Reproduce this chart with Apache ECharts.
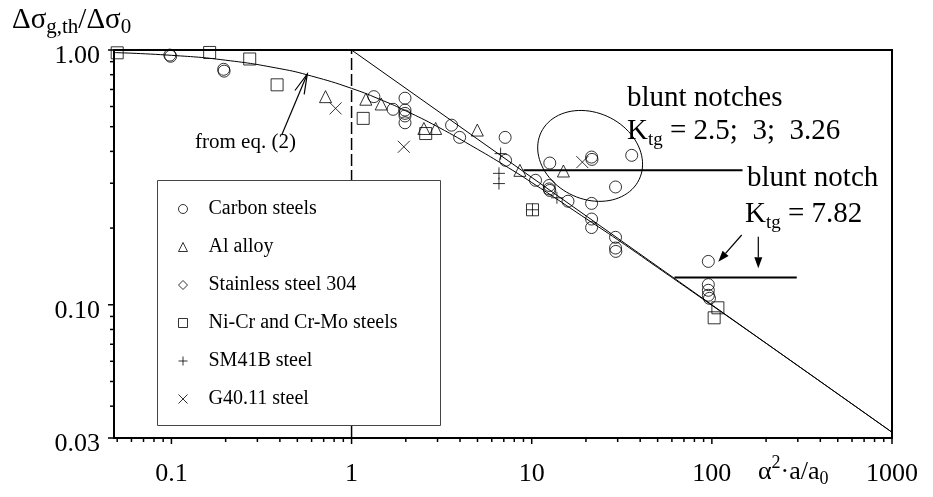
<!DOCTYPE html>
<html><head><meta charset="utf-8">
<script src="https://cdn.jsdelivr.net/npm/echarts@6/dist/echarts.min.js"></script>
<style>html,body{margin:0;padding:0;background:#fff}#c{width:933px;height:497px}</style>
</head><body><div id="c"></div>
<script>
// ---------- data ----------
const carbonSteels = [
  [0.098,0.955],[0.099,0.945],[0.195,0.840],[0.196,0.826],
  [1.33,0.656],[1.70,0.585],[1.98,0.647],[1.98,0.581],[1.98,0.564],[1.98,0.551],[1.98,0.518],
  [3.59,0.507],[3.98,0.454],[7.12,0.454],[7.16,0.369],
  [10.5,0.308],[12.6,0.360],[12.5,0.294],[12.5,0.285],[12.6,0.281],[15.9,0.255],
  [21.5,0.380],[21.6,0.372],[35.9,0.386],[29.2,0.290],
  [21.5,0.250],[21.5,0.217],[21.5,0.201],
  [29.2,0.184],[29.2,0.167],[29.3,0.162],
  [95.6,0.148],[95.6,0.120],[95.6,0.114],[95.6,0.109],[97,0.106]
];
const alAlloy = [[0.717,0.656],[1.20,0.641],[1.46,0.614],[2.52,0.492],[2.93,0.492],[4.99,0.485],[8.6,0.337],[15.0,0.335]];
const stainless304 = [];
const niCrCrMo = [[0.05,0.975],[0.163,0.978],[0.272,0.922],[0.386,0.730],[1.16,0.539],[2.58,0.470],[10.1,0.236],[108,0.0973],[103,0.0889]];
const sm41b = [[6.72,0.392],[6.58,0.328],[6.58,0.299],[13.8,0.263],[10.1,0.236]];
const g4011 = [[0.815,0.590],[1.95,0.417],[19.1,0.363]];

const eq2Curve = [[0.048,0.977],[0.1,0.953],[0.2,0.912],[0.4,0.845],[0.6,0.79],[1,0.707],[1.5,0.632],[2,0.577],[3,0.5],[5,0.408],[7,0.354],[10,0.302],[20,0.218],[30,0.18],[50,0.14],[100,0.0995],[300,0.0577],[1000,0.0316]];
const slopeLine = [[1,1],[1000,0.0316]];
const dashedLine = [[1,0.03],[1,1]];
const bluntNotchesLevel = [[9,0.337],[148,0.337]];
const bluntNotchLevel = [[62,0.128],[296,0.128]];
const ellipseCenter = [[21.1,0.384]];

const seriesNames = ['Carbon steels','Al alloy','Stainless steel 304','Ni-Cr and Cr-Mo steels','SM41B steel','G40.11 steel'];

const X_MIN = 0.048, X_MAX = 1000, Y_MIN = 0.03, Y_MAX = 1;
const xMajorTicks = [0.1,1,10,100,1000];
const xMinorTicks = [0.05,0.06,0.07,0.08,0.09,0.2,0.3,0.4,0.5,0.6,0.7,0.8,0.9,2,3,4,5,6,7,8,9,20,30,40,50,60,70,80,90,200,300,400,500,600,700,800,900];
const yMajorTicks = [0.03,0.1,1];
const yMinorTicks = [0.04,0.05,0.06,0.07,0.08,0.09,0.2,0.3,0.4,0.5,0.6,0.7,0.8,0.9];

// ---------- helpers ----------
const FF = '"Liberation Serif","Times New Roman",serif';
const mctx = document.createElement('canvas').getContext('2d');
function textRun(x, baseline, pieces) {
  const els = []; let cx = x;
  pieces.forEach(p => {
    mctx.font = p.size + 'px ' + FF;
    const w = mctx.measureText(p.text).width;
    els.push({type:'text', x:cx, y: baseline + (p.dy||0) - 0.305*p.size, z:30,
      style:{text:p.text, fontSize:p.size, fontFamily:FF, fill:'#000', align:'left', verticalAlign:'middle'}});
    cx += w;
  });
  return els;
}
function arrow(x1,y1,x2,y2,len,half,filled){
  const dx=x1-x2, dy=y1-y2, L=Math.hypot(dx,dy), ux=dx/L, uy=dy/L;
  const bx=x2+ux*len, by=y2+uy*len, px=-uy*half, py=ux*half;
  const els=[];
  if(filled){
    els.push({type:'line', z:30, shape:{x1:x1,y1:y1,x2:bx,y2:by}, style:{stroke:'#000',lineWidth:1.2}});
    els.push({type:'polygon', z:30, shape:{points:[[x2,y2],[bx+px,by+py],[bx-px,by-py]]}, style:{fill:'#000'}});
  } else {
    els.push({type:'line', z:30, shape:{x1:x1,y1:y1,x2:x2,y2:y2}, style:{stroke:'#000',lineWidth:1.2}});
    els.push({type:'polyline', z:30, shape:{points:[[bx+px,by+py],[x2,y2],[bx-px,by-py]]}, style:{stroke:'#000',lineWidth:1.2,fill:null}});
  }
  return els;
}
const sym = {
  plus: 'path://M0,5L10,5M5,0L5,10',
  cross: 'path://M0,0L10,10M10,0L0,10'
};
function scatter(name, data, symbol, size){
  return {name, type:'scatter', data, symbol, symbolSize:size, symbolKeepAspect:true, z:4,
    itemStyle:{color:'rgba(0,0,0,0)', borderColor:'#000', borderWidth:1},
    emphasis:{disabled:true}, silent:true};
}
function line(data, width, type, smooth){
  return {type:'line', data, showSymbol:false, symbol:'none', smooth:!!smooth, z:3, silent:true,
    lineStyle:{color:'#000', width, type: type||'solid'}, emphasis:{disabled:true}};
}
function tickSeries(vals, axis, len){
  return {type:'custom', silent:true, clip:false, z:6,
    data: vals.map(v => axis==='x' ? [v, Y_MIN] : [X_MIN, v]),
    renderItem:(params, api) => {
      const p = api.coord([api.value(0), api.value(1)]);
      const s = axis==='x' ? {x1:p[0],y1:p[1],x2:p[0],y2:p[1]+len} : {x1:p[0]-len,y1:p[1],x2:p[0],y2:p[1]};
      return {type:'line', shape:s, style:{stroke:'#000', lineWidth:1.5}};
    }};
}
const TH = 25.8*Math.PI/180;
const ellipseSeries = {type:'custom', silent:true, clip:false, z:3, data:ellipseCenter,
  renderItem:(params, api) => {
    const c = api.coord([api.value(0), api.value(1)]); const pts=[];
    for(let i=0;i<=90;i++){ const t=i/90*2*Math.PI; const ex=54.4*Math.cos(t), ey=43.1*Math.sin(t);
      pts.push([c[0]+ex*Math.cos(TH)-ey*Math.sin(TH), c[1]+ex*Math.sin(TH)+ey*Math.cos(TH)]); }
    return {type:'polyline', shape:{points:pts}, style:{stroke:'#000', lineWidth:1, fill:null}};
  }};

const chart = echarts.init(document.getElementById('c'), null, {renderer:'canvas'});
const graphics = [].concat(
  [{type:'rect', z:8, shape:{x:157.5,y:180.5,width:283,height:245}, style:{fill:'#fff', stroke:'#444', lineWidth:1}}],
  textRun(12, 29.5, [{text:'Δσ',size:29},{text:'g,th',size:21,dy:4},{text:'/Δσ',size:29},{text:'0',size:21,dy:4}]),
  textRun(758, 480, [{text:'α',size:26},{text:'2',size:18,dy:-11},{text:'·a/a',size:26},{text:'0',size:18,dy:5}]),
  textRun(195, 149, [{text:'from eq. (2)',size:21}]),
  textRun(627, 107, [{text:'blunt notches',size:29}]),
  textRun(627, 140, [{text:'K',size:29},{text:'tg',size:19,dy:6},{text:' = 2.5;  3;  3.26',size:29}]),
  textRun(747, 187, [{text:'blunt notch',size:29}]),
  textRun(745, 223, [{text:'K',size:29},{text:'tg',size:19,dy:6},{text:' = 7.82',size:29}]),
  arrow(281.7,135,307.3,74,20,5,false),
  arrow(741.7,235,718.3,261.7,11,4,true),
  arrow(758.3,236.7,758.3,268.3,11,4,true)
);

chart.setOption({
  animation:false,
  backgroundColor:'#fff',
  grid:{left:114, top:50, right:41, bottom:59, show:true, borderColor:'#000', borderWidth:2, containLabel:false, outerBoundsMode:'none'},
  xAxis:{type:'log', logBase:10, min:X_MIN, max:X_MAX,
    axisLine:{show:true, lineStyle:{color:'#000', width:2}}, axisTick:{show:false}, minorTick:{show:false}, splitLine:{show:false},
    axisLabel:{margin:23, color:'#000', fontSize:26, fontFamily:FF, showMinLabel:true, showMaxLabel:true,
      formatter: v => { const t = xMajorTicks.find(t => Math.abs(v/t-1) < 1e-6); return t===undefined ? '' : String(t); }}},
  yAxis:{type:'log', logBase:10, min:Y_MIN, max:Y_MAX,
    axisLine:{show:true, lineStyle:{color:'#000', width:2}}, axisTick:{show:false}, minorTick:{show:false}, splitLine:{show:false},
    axisLabel:{margin:14, color:'#000', fontSize:26, fontFamily:FF, verticalAlign:'top', lineHeight:12, showMinLabel:true, showMaxLabel:true,
      formatter: v => { const t = yMajorTicks.find(t => Math.abs(v/t-1) < 1e-6); return t===undefined ? '' : t.toFixed(2); }}},
  legend:{show:true, orient:'vertical', left:178, top:199, padding:0, itemGap:18, itemWidth:9, itemHeight:9, z:20,
    selectedMode:false, backgroundColor:'rgba(0,0,0,0)',
    itemStyle:{color:'rgba(0,0,0,0)', borderColor:'#000', borderWidth:1},
    textStyle:{fontSize:20, fontFamily:FF, color:'#000', lineHeight:20, padding:[0,0,0,16]},
    data:[
      {name:seriesNames[0], icon:'circle'},
      {name:seriesNames[1], icon:'triangle'},
      {name:seriesNames[2], icon:'diamond'},
      {name:seriesNames[3], icon:'rect'},
      {name:seriesNames[4], icon:sym.plus},
      {name:seriesNames[5], icon:sym.cross}
    ]},
  graphic:{elements:graphics},
  series:[
    line(dashedLine, 1.5, [12,4]),
    line(slopeLine, 1),
    line(eq2Curve, 1, 'solid', true),
    line(bluntNotchesLevel, 2),
    line(bluntNotchLevel, 2),
    ellipseSeries,
    scatter(seriesNames[0], carbonSteels, 'circle', 12),
    scatter(seriesNames[1], alAlloy, 'triangle', 12),
    scatter(seriesNames[2], stainless304, 'diamond', 11),
    scatter(seriesNames[3], niCrCrMo, 'rect', 12),
    scatter(seriesNames[4], sm41b, sym.plus, 12),
    scatter(seriesNames[5], g4011, sym.cross, 12),
    tickSeries(xMajorTicks, 'x', 6),
    tickSeries(xMinorTicks, 'x', 4),
    tickSeries(yMajorTicks, 'y', 6),
    tickSeries(yMinorTicks, 'y', 4)
  ]
});
</script></body></html>
